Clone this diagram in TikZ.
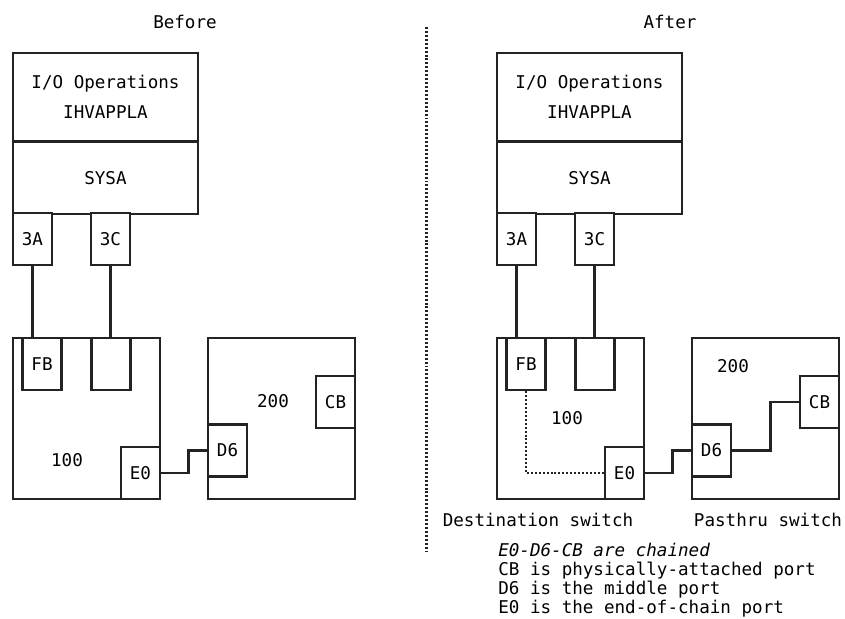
\documentclass[tikz,border=0pt]{standalone}
\usepackage{fontspec}
\setmainfont{DejaVu Sans Mono}
\usepackage{tikz}
\usetikzlibrary{positioning}
\definecolor{InkGray}{RGB}{35,35,35}

\begin{document}
\begin{tikzpicture}[
          font=\fontsize{12.5}{15}\selectfont,
          host/.style={rectangle, draw=InkGray, line width=1.8pt,
                       minimum width=4.625cm, align=center, inner sep=0pt},
          port/.style={rectangle, draw=InkGray, line width=1.8pt, fill=white,
                       minimum width=0.975cm, minimum height=1.3cm, inner sep=0pt},
          switchbox/.style={rectangle, draw=InkGray, line width=1.8pt,
                       minimum width=3.675cm, minimum height=4.025cm},
          wire/.style={draw=InkGray, line width=1.8pt},
          dotline/.style={draw=InkGray, line width=1.6pt,
                       dash pattern=on 1.4pt off 1.4pt}
        ]
        \useasboundingbox (0,0) rectangle (21.125,15.475);

        % Headings and divider
        \node (before) at (4.625,14.925) {Before};
        \node (after) at (16.75,14.925) {After};
        \coordinate (divtop) at (10.66,14.8);
        \coordinate (divbot) at (10.66,1.65);
        \draw[dotline] (divtop) -- (divbot);

        % Before: host
        \node[host, minimum height=2.2cm] (ioA) at (2.6375,13.05)
              {I/O Operations\\[6pt]IHVAPPLA};
        \node[host, minimum height=1.8cm] (sysA) at (2.6375,11.03) {SYSA};
        \node[port] (p3aA) at (0.8125,9.5) {3A};
        \node[port] (p3cA) at (2.7625,9.5) {3C};

        % Before: switches
        \node[switchbox] (swA) at (2.1625,5.0125) {};
        \node[switchbox] (swB) at (7.0375,5.0125) {};
        \node[port] (fbA) at (1.05,6.375) {FB};
        \node[port] (emA) at (2.775,6.375) {};
        \node[port] (e0A) at (3.5125,3.65) {E0};
        \node[port] (d6A) at (5.6875,4.2125) {D6};
        \node[port] (cbA) at (8.3875,5.425) {CB};
        \node (lblA) at (1.675,3.975) {100};
        \node (lblB) at (6.825,5.45) {200};

        \draw[wire] (p3aA.south) -- (p3aA.south |- fbA.north);
        \draw[wire] (p3cA.south) -- (p3cA.south |- emA.north);
        \draw[wire] (e0A.east) -- ++(0.675,0) |- (d6A.west);

        % After: host
        \node[host, minimum height=2.2cm] (ioB) at (14.7375,13.05)
              {I/O Operations\\[6pt]IHVAPPLA};
        \node[host, minimum height=1.8cm] (sysB) at (14.7375,11.03) {SYSA};
        \node[port] (p3aB) at (12.9125,9.5) {3A};
        \node[port] (p3cB) at (14.8625,9.5) {3C};

        % After: switches
        \node[switchbox] (swC) at (14.2625,5.0125) {};
        \node[switchbox] (swD) at (19.1375,5.0125) {};
        \node[port] (fbB) at (13.15,6.375) {FB};
        \node[port] (emB) at (14.875,6.375) {};
        \node[port] (e0B) at (15.6125,3.65) {E0};
        \node[port] (d6B) at (17.7875,4.2125) {D6};
        \node[port] (cbB) at (20.4875,5.425) {CB};
        \node (lblC) at (14.175,5.025) {100};
        \node (lblD) at (18.325,6.325) {200};

        \draw[wire] (p3aB.south) -- (p3aB.south |- fbB.north);
        \draw[wire] (p3cB.south) -- (p3cB.south |- emB.north);
        \draw[wire] (e0B.east) -- ++(0.675,0) |- (d6B.west);
        \draw[wire] (d6B.east) -- ++(0.95,0) |- (cbB.west);
        \draw[dotline] (fbB.south) |- (e0B.west);

        % Captions and notes
        \node[anchor=base] (capC) at (13.45,2.31) {Destination switch};
        \node[anchor=base] (capD) at (19.2,2.31) {Pasthru switch};
        \node[anchor=base west, inner sep=0pt] (note1) at (12.45,1.56)
              {\itshape E0-D6-CB are chained};
        \node[anchor=base west, inner sep=0pt] (note2) at (12.45,1.08)
              {CB is physically-attached port};
        \node[anchor=base west, inner sep=0pt] (note3) at (12.45,0.6)
              {D6 is the middle port};
        \node[anchor=base west, inner sep=0pt] (note4) at (12.45,0.13)
              {E0 is the end-of-chain port};
      \end{tikzpicture}
\end{document}
